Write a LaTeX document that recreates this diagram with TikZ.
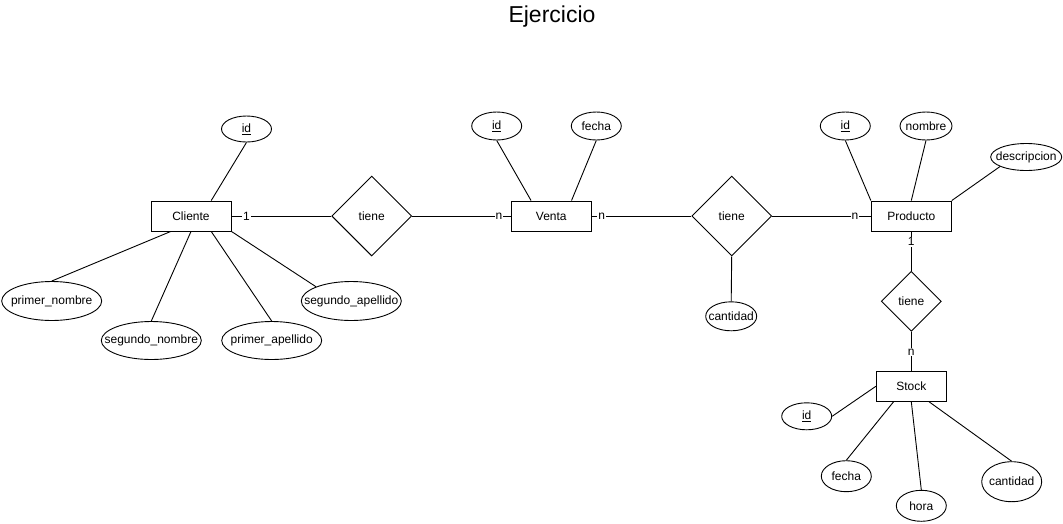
\documentclass[tikz,border=0pt]{standalone}
\usepackage{fontspec}
\setmainfont{Liberation Sans}
\usetikzlibrary{shapes.geometric,calc}
\tikzset{
  ent/.style={draw, rectangle, minimum width=80pt, minimum height=30pt, inner sep=0pt, line width=0.9pt, font=\fontsize{12}{14}\selectfont},
  attr/.style={draw, ellipse, inner sep=0pt, line width=0.9pt, font=\fontsize{12}{14}\selectfont},
  rel/.style={draw, diamond, minimum width=80pt, minimum height=80pt, inner sep=0pt, line width=0.9pt, font=\fontsize{12}{14}\selectfont},
  conn/.style={line width=0.9pt},
  card/.style={fill=white, inner sep=1pt, font=\fontsize{12}{14}\selectfont}
}
\newcommand{\zt}[1]{\makebox[0pt]{#1}}
\begin{document}
\begin{tikzpicture}[x=1pt,y=-1pt]
\useasboundingbox (0,0) rectangle (1063,523);
\node[font=\fontsize{23}{26}\selectfont] (title) at (552,17) {Ejercicio};

% Cliente
\node[ent] (cliente) at (191,216) {\zt{Cliente}};
\node[attr, minimum width=50pt, minimum height=26pt] (cid) at (246.5,129) {\zt{\underline{id}}};
\node[attr, minimum width=100pt, minimum height=39pt] (pn) at (51.7,301) {\zt{primer\_nombre}};
\node[attr, minimum width=100pt, minimum height=38pt] (sn) at (151.3,340.5) {\zt{segundo\_nombre}};
\node[attr, minimum width=100pt, minimum height=38pt] (pa) at (271.7,340.5) {\zt{primer\_apellido}};
\node[attr, minimum width=100pt, minimum height=39pt] (sa) at (351.3,301) {\zt{segundo\_apellido}};
\node[rel] (t1) at (371.7,216) {\zt{tiene}};

% Venta
\node[ent] (venta) at (551.3,216) {\zt{Venta}};
\node[attr, minimum width=50pt, minimum height=28pt] (vid) at (496.7,126) {\zt{\underline{id}}};
\node[attr, minimum width=50pt, minimum height=28pt] (vfe) at (596.3,126) {\zt{fecha}};
\node[rel] (t2) at (731.7,216) {\zt{tiene}};
\node[attr, minimum width=51pt, minimum height=29pt] (vcant) at (731.2,316.3) {\zt{cantidad}};

% Producto
\node[ent] (producto) at (911.3,216) {\zt{Producto}};
\node[attr, minimum width=50pt, minimum height=28pt] (pid) at (845.3,126) {\zt{\underline{id}}};
\node[attr, minimum width=52pt, minimum height=28pt] (pnom) at (926,126) {\zt{nombre}};
\node[attr, minimum width=71pt, minimum height=27pt] (pdesc) at (1026.2,157) {\zt{descripcion}};
\node[rel, minimum width=60pt, minimum height=60pt] (t3) at (911.3,301.3) {\zt{tiene}};

% Stock
\node[ent, minimum width=70pt] (stock) at (911.3,386.3) {\zt{Stock}};
\node[attr, minimum width=50pt, minimum height=27pt] (sid) at (806.7,416.3) {\zt{\underline{id}}};
\node[attr, minimum width=50pt, minimum height=31pt] (sfe) at (846.3,476.2) {\zt{fecha}};
\node[attr, minimum width=50pt, minimum height=31pt] (shora) at (921.3,505.8) {\zt{hora}};
\node[attr, minimum width=60pt, minimum height=40pt] (scant) at (1011.7,481.7) {\zt{cantidad}};

% Cliente attributes
\draw[conn] (cid.south) -- ($(cliente.north west)!0.75!(cliente.north east)$);
\draw[conn] ($(cliente.south west)!0.25!(cliente.south east)$) -- (pn.north);
\draw[conn] (cliente.south) -- (sn.north);
\draw[conn] ($(cliente.south west)!0.75!(cliente.south east)$) -- (pa.north);
\draw[conn] (cliente.south east) -- (sa.158);

% Venta attributes
\draw[conn] (vid.south) -- ($(venta.north west)!0.25!(venta.north east)$);
\draw[conn] (vfe.south) -- ($(venta.north west)!0.75!(venta.north east)$);
\draw[conn] (t2.south) -- (vcant.north);

% Producto attributes
\draw[conn] (pid.south) -- (producto.north west);
\draw[conn] (pnom.south) -- (producto.north);
\draw[conn] (pdesc.200) -- (producto.north east);

% Stock attributes
\draw[conn] (stock.west) -- (sid.east);
\draw[conn] ($(stock.south west)!0.25!(stock.south east)$) -- (sfe.north);
\draw[conn] (stock.south) -- (shora.north);
\draw[conn] ($(stock.south west)!0.75!(stock.south east)$) -- (scant.north);

% Relationships
\draw[conn] (cliente.east) -- node[card, pos=0.15] (c1) {1} (t1.west);
\draw[conn] (t1.east) -- node[card, pos=0.88] (c2) {n} (venta.west);
\draw[conn] (venta.east) -- node[card, pos=0.1] (c3) {n} (t2.west);
\draw[conn] (t2.east) -- node[card, pos=0.84] (c4) {n} (producto.west);
\draw[conn] (producto.south) -- node[card, pos=0.26] (c5) {1} (t3.north);
\draw[conn] (t3.south) -- node[card, pos=0.52] (c6) {n} (stock.north);
\end{tikzpicture}
\end{document}
